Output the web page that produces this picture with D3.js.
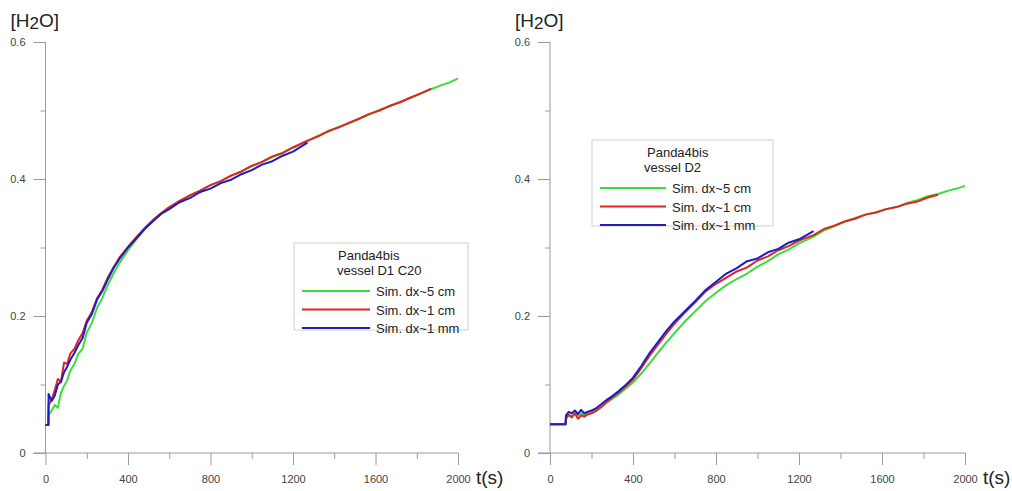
<!DOCTYPE html>
<html>
<head>
<meta charset="utf-8">
<script src="https://cdn.jsdelivr.net/npm/d3@7"></script>
<style>
  body { margin: 0; background: #fff; }
  svg { display: block; font-family: "Liberation Sans", Arial, sans-serif; }
</style>
</head>
<body>
<svg id="chart" width="1012" height="491"></svg>
<script>
// ---- data ----
var yTicks = [0, 0.2, 0.4, 0.6]
var yMinor = [0.1, 0.3, 0.5]
var xTicks = [0, 400, 800, 1200, 1600, 2000]
var xMinor = [200, 600, 1000, 1400, 1800]

var seriesNames = ["Sim. dx~5 cm", "Sim. dx~1 cm", "Sim. dx~1 mm"]
var seriesColors = ["#3ddc3d", "#e02424", "#1c1cc4"]

// left panel: vessel D1 C20
var tLeft = [0, 14, 15, 30, 45, 60, 75, 90, 105, 120, 140, 160, 180, 200, 225, 250, 275, 300, 330, 360,
    400, 440, 480, 520, 560, 600, 650, 700, 750, 800, 850, 900, 950, 1000, 1050, 1100, 1150, 1200, 1270,
    1320, 1370, 1420, 1470, 1520, 1570, 1620, 1670, 1720, 1770, 1820, 1870, 1920, 1960, 2000]
var left5cm = [0.041, 0.041, 0.055, 0.062, 0.07, 0.066, 0.088, 0.098, 0.106, 0.12, 0.13, 0.145, 0.152, 0.176,
    0.19, 0.212, 0.226, 0.244, 0.262, 0.278, 0.296, 0.312, 0.326, 0.339, 0.349, 0.358, 0.367, 0.376, 0.383,
    0.391, 0.397, 0.405, 0.411, 0.419, 0.425, 0.432, 0.438, 0.446, 0.455, 0.463, 0.469, 0.476, 0.481, 0.488,
    0.494, 0.501, 0.506, 0.513, 0.518, 0.525, 0.531, 0.537, 0.541, 0.547]
var left1cm = [0.041, 0.041, 0.07, 0.078, 0.092, 0.108, 0.104, 0.132, 0.13, 0.145, 0.152, 0.165, 0.175, 0.193,
    0.206, 0.226, 0.238, 0.255, 0.271, 0.286, 0.301, 0.315, 0.328, 0.34, 0.35, 0.359, 0.368, 0.376, 0.383,
    0.391, 0.397, 0.405, 0.411, 0.419, 0.425, 0.433, 0.438, 0.446, 0.456, 0.462, 0.47, 0.475, 0.482, 0.488,
    0.495, 0.5, 0.507, 0.512, 0.519, 0.525, 0.532]
var left1mm = [0.041, 0.041, 0.086, 0.076, 0.084, 0.1, 0.104, 0.118, 0.126, 0.136, 0.146, 0.158, 0.168, 0.19,
    0.203, 0.224, 0.236, 0.252, 0.27, 0.284, 0.3, 0.313, 0.327, 0.338, 0.349, 0.356, 0.366, 0.372, 0.381,
    0.386, 0.394, 0.399, 0.407, 0.413, 0.421, 0.426, 0.434, 0.44, 0.453]

// right panel: vessel D2
var tRight = [0, 75, 77, 90, 105, 120, 135, 150, 165, 180, 200, 225, 250, 275, 300, 330, 360, 400, 440, 480,
    520, 560, 600, 650, 700, 750, 800, 850, 900, 950, 1000, 1050, 1100, 1150, 1200, 1270,
    1320, 1370, 1420, 1470, 1520, 1570, 1620, 1670, 1720, 1770, 1820, 1870, 1920, 1960, 2000]
var right5cm = [0.042, 0.042, 0.052, 0.055, 0.054, 0.057, 0.055, 0.058, 0.056, 0.058, 0.06, 0.063, 0.068,
    0.074, 0.079, 0.085, 0.093, 0.103, 0.116, 0.131, 0.146, 0.161, 0.175, 0.192, 0.207, 0.222, 0.234, 0.245,
    0.254, 0.262, 0.272, 0.28, 0.29, 0.297, 0.306, 0.316, 0.325, 0.331, 0.338, 0.343, 0.348, 0.351, 0.356,
    0.359, 0.365, 0.369, 0.375, 0.378, 0.383, 0.386, 0.39]
var right1cm = [0.042, 0.042, 0.05, 0.056, 0.052, 0.058, 0.05, 0.055, 0.053, 0.056, 0.058, 0.062, 0.068,
    0.075, 0.081, 0.088, 0.096, 0.107, 0.124, 0.142, 0.158, 0.174, 0.189, 0.205, 0.22, 0.236, 0.247, 0.256,
    0.265, 0.271, 0.281, 0.287, 0.296, 0.302, 0.31, 0.318, 0.327, 0.332, 0.338, 0.342, 0.348, 0.351, 0.356,
    0.359, 0.364, 0.367, 0.373, 0.377]
var right1mm = [0.042, 0.042, 0.055, 0.06, 0.058, 0.062, 0.057, 0.063, 0.058, 0.06, 0.062, 0.066, 0.072,
    0.078, 0.083, 0.09, 0.098, 0.11, 0.127, 0.146, 0.162, 0.178, 0.192, 0.207, 0.222, 0.238, 0.25, 0.262,
    0.27, 0.28, 0.284, 0.293, 0.298, 0.307, 0.312, 0.324]

var svg = d3.select('#chart')

function drawPanel(left, right, title, times, series, legendBox) {
    var x = d3.scaleLinear().domain([0, 2000]).range([left, right])
    var y = d3.scaleLinear().domain([0, 0.6]).range([453, 42])
    var g = svg.append('g')

    // y axis
    g.append('g')
        .attr('transform', 'translate(' + left + ',0)')
        .call(d3.axisLeft(y).tickValues(yTicks).tickSize(12).tickFormat(function (d) { return d === 0 ? '0' : d3.format('.1f')(d) }))
        .call(function (a) {
            a.select('.domain').remove()
            a.selectAll('line').attr('stroke', '#9a9a9a')
            a.selectAll('text').attr('x', -20).attr('fill', '#444').style('font-size', '11px').style('font-family', 'Liberation Sans, Arial, sans-serif')
        })
    g.append('g')
        .attr('transform', 'translate(' + left + ',0)')
        .call(d3.axisLeft(y).tickValues(yMinor).tickSize(5).tickFormat(''))
        .call(function (a) {
            a.select('.domain').remove()
            a.selectAll('line').attr('stroke', '#9a9a9a')
        })
    g.append('line')
        .attr('x1', left).attr('x2', left)
        .attr('y1', y(0.6)).attr('y2', y(0))
        .attr('stroke', '#9a9a9a')

    // x axis
    g.append('g')
        .attr('transform', 'translate(0,' + y(0) + ')')
        .call(d3.axisBottom(x).tickValues(xTicks).tickSize(12).tickPadding(10).tickFormat(d3.format('d')))
        .call(function (a) {
            a.select('.domain').remove()
            a.selectAll('line').attr('stroke', '#9a9a9a')
            a.selectAll('text').attr('fill', '#444').style('font-size', '11px').style('font-family', 'Liberation Sans, Arial, sans-serif')
        })
    g.append('g')
        .attr('transform', 'translate(0,' + y(0) + ')')
        .call(d3.axisBottom(x).tickValues(xMinor).tickSize(6).tickFormat(''))
        .call(function (a) {
            a.select('.domain').remove()
            a.selectAll('line').attr('stroke', '#9a9a9a')
        })
    g.append('line')
        .attr('x1', left - 12).attr('x2', x(2000))
        .attr('y1', y(0)).attr('y2', y(0))
        .attr('stroke', '#9a9a9a')

    // axis titles
    var yt = g.append('text')
        .attr('x', left - 35)
        .attr('y', 27)
        .attr('fill', '#222')
        .style('font-size', '19px')
    yt.append('tspan').text('[H')
    yt.append('tspan').text('2').style('font-size', '17px').attr('dy', 2)
    yt.append('tspan').text('O]').attr('dy', -2)

    g.append('text')
        .attr('x', x(2000) + 18)
        .attr('y', 484)
        .attr('fill', '#222')
        .style('font-size', '19px')
        .text('t(s)')

    // curves
    var line = d3.line()
        .x(function (d) { return x(d[0]) })
        .y(function (d) { return y(d[1]) })
    series.forEach(function (vals, i) {
        var pts = vals.map(function (v, k) { return [times[k], v] })
        g.append('path')
            .datum(pts)
            .attr('d', line)
            .attr('fill', 'none')
            .attr('stroke', seriesColors[i])
            .attr('stroke-width', 2)
            .attr('stroke-linejoin', 'round')
    })

    // legend
    var lg = g.append('g').attr('transform', 'translate(' + legendBox[0] + ',' + legendBox[1] + ')')
    lg.append('rect')
        .attr('x', 0).attr('y', 0)
        .attr('width', legendBox[2]).attr('height', legendBox[3])
        .attr('fill', '#fff')
        .attr('stroke', '#cfcfcf')
    lg.append('text')
        .attr('x', legendBox[4]).attr('y', 17)
        .attr('fill', '#222').style('font-size', '13px')
        .text('Panda4bis')
    lg.append('text')
        .attr('x', legendBox[6]).attr('y', 32)
        .attr('fill', '#222').style('font-size', '13px')
        .text(title)
    lg.selectAll('.row')
        .data(seriesNames)
        .enter()
        .append('g')
        .attr('transform', function (d, i) { return 'translate(0,' + (48 + i * 18.5) + ')' })
        .each(function (d, i) {
            var r = d3.select(this)
            r.append('line')
                .attr('x1', 8).attr('x2', 8 + legendBox[5])
                .attr('y1', 0).attr('y2', 0)
                .attr('stroke', seriesColors[i])
                .attr('stroke-width', 2)
            r.append('text')
                .attr('x', 14 + legendBox[5]).attr('y', 5)
                .attr('fill', '#222').style('font-size', '13px')
                .text(d)
        })
}

drawPanel(45.5, 458, 'vessel D1 C20', tLeft, [left5cm, left1cm, left1mm], [294, 243, 174, 87, 44, 68, 43])
drawPanel(550, 965, 'vessel D2', tRight, [right5cm, right1cm, right1mm], [592, 140, 181, 86, 55, 66, 52])
</script>
</body>
</html>
